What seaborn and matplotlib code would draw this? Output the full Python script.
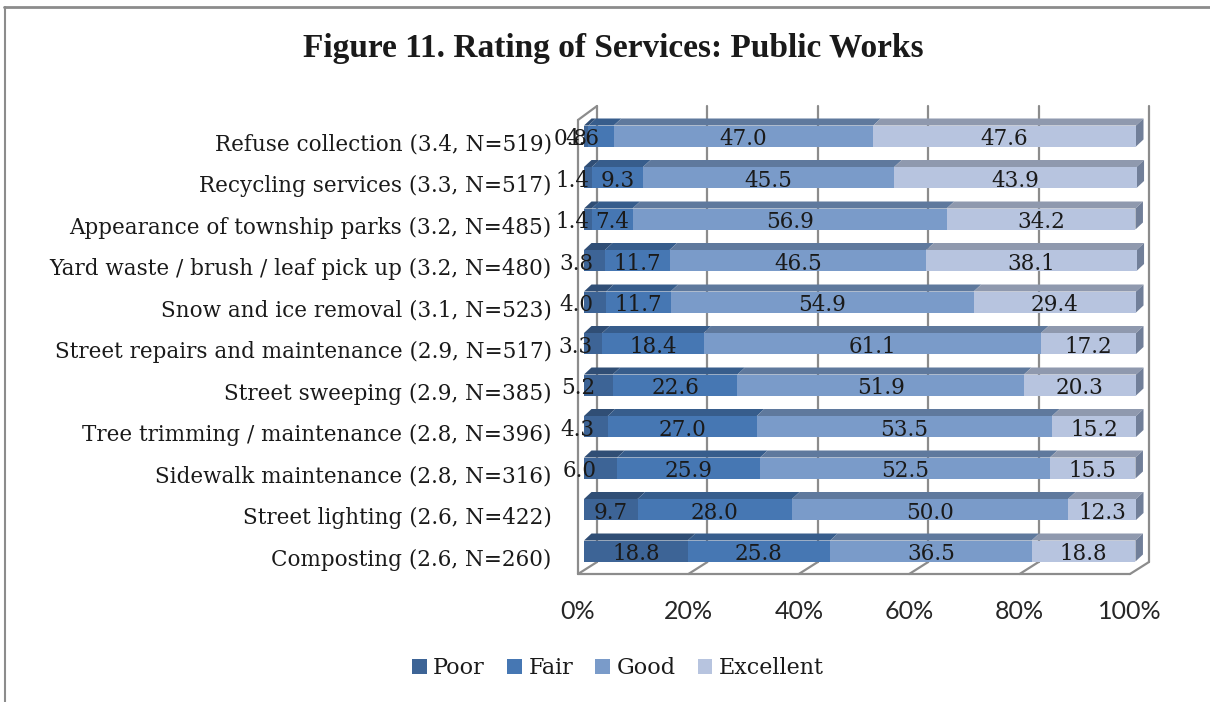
import numpy as np
import pandas as pd
import matplotlib
matplotlib.use("Agg")
import matplotlib.pyplot as plt
from matplotlib.patches import Polygon, Patch
from matplotlib.lines import Line2D
from matplotlib.colors import to_rgb
import seaborn as sns

# ---- data -------------------------------------------------------------
services = [
    "Refuse collection (3.4, N=519)",
    "Recycling services (3.3, N=517)",
    "Appearance of township parks (3.2, N=485)",
    "Yard waste / brush / leaf pick up (3.2, N=480)",
    "Snow and ice removal (3.1, N=523)",
    "Street repairs and maintenance (2.9, N=517)",
    "Street sweeping (2.9, N=385)",
    "Tree trimming / maintenance (2.8, N=396)",
    "Sidewalk maintenance (2.8, N=316)",
    "Street lighting (2.6, N=422)",
    "Composting (2.6, N=260)",
]
poor = [0.8, 1.4, 1.4, 3.8, 4.0, 3.3, 5.2, 4.3, 6.0, 9.7, 18.8]
fair = [4.6, 9.3, 7.4, 11.7, 11.7, 18.4, 22.6, 27.0, 25.9, 28.0, 25.8]
good = [47.0, 45.5, 56.9, 46.5, 54.9, 61.1, 51.9, 53.5, 52.5, 50.0, 36.5]
excellent = [47.6, 43.9, 34.2, 38.1, 29.4, 17.2, 20.3, 15.2, 15.5, 12.3, 18.8]
ratings = ["Poor", "Fair", "Good", "Excellent"]
tick_values = [0, 20, 40, 60, 80, 100]

colors = ["#3D6496", "#4677B3", "#7A9BC9", "#B7C4DF"]
side_color = "#717F99"
wall_color = "#8C8C8C"
text_color = "#1A1A1A"

# ---- theme ------------------------------------------------------------
sns.set_theme(style="white")
plt.rcParams["font.family"] = ["DejaVu Serif"]

W, H = 1210, 702
fig = plt.figure(figsize=(W / 100, H / 100), dpi=100)

# pixel geometry of the plot box (bar front plane: 0% at x=584, 5.52 px per %)
X0, PX_PCT = 584.0, 5.52
Y0, PX_ROW = 136.0, 41.5
ax_l, ax_r, ax_t, ax_b = 560, 1170, 95, 590
ax = fig.add_axes([ax_l / W, 1 - ax_b / H, (ax_r - ax_l) / W, (ax_b - ax_t) / H])


def dx(px):
    return px / PX_PCT


def dy(px):
    return px / PX_ROW


# ---- stacked bars (front faces) ----------------------------------------
df = pd.DataFrame({"service": services, "Poor": poor, "Fair": fair,
                   "Good": good, "Excellent": excellent})
cum = df[ratings].cumsum(axis=1).assign(service=services)
bar_h = dy(21)
for k in range(len(ratings) - 1, -1, -1):
    sns.barplot(data=cum, x=ratings[k], y="service", orient="h",
                color=colors[k], saturation=1, width=bar_h, order=services,
                ax=ax, zorder=3, linewidth=0)

ax.set_xlim((ax_l - X0) / PX_PCT, (ax_r - X0) / PX_PCT)
ax.set_ylim((ax_b - Y0) / PX_ROW, (ax_t - Y0) / PX_ROW)

# ---- walls and floor ----------------------------------------------------
wf_x, wf_top, wf_bot = dx(-6), dy(120 - Y0), dy(574 - Y0)   # front edge of walls
wb_x, wb_top, wb_bot = dx(13), dy(106 - Y0), dy(562 - Y0)   # back wall plane
lw = 1.6
ax.plot([wf_x, wf_x], [wf_top, wf_bot], color=wall_color, lw=lw, zorder=1)
ax.plot([wf_x, wb_x], [wf_top, wb_top], color=wall_color, lw=lw, zorder=1)
for v in tick_values:
    ax.plot([v + wb_x, v + wb_x], [wb_top, wb_bot], color=wall_color, lw=lw, zorder=1)
    ax.plot([v + wf_x, v + wb_x], [wf_bot, wb_bot], color=wall_color, lw=lw, zorder=1)
ax.plot([wf_x, 100 + wf_x], [wf_bot, wf_bot], color=wall_color, lw=lw, zorder=1)

# ---- 3-D top and end faces ----------------------------------------------
ddx, ddy = dx(7.5), dy(-7)


def darker(c, f):
    r, g, b = to_rgb(c)
    return (r * f, g * f, b * f)


for i in range(len(services)):
    yt = i - bar_h / 2
    yb = i + bar_h / 2
    left = 0.0
    for k, r in enumerate(ratings):
        v = df.loc[i, r]
        right = left + v
        ax.add_patch(Polygon([(left, yt), (right, yt), (right + ddx, yt + ddy),
                              (left + ddx, yt + ddy)], closed=True,
                             facecolor=darker(colors[k], 0.78), edgecolor="none", zorder=2))
        left = right
    ax.add_patch(Polygon([(left, yt), (left, yb), (left + ddx, yb + ddy),
                          (left + ddx, yt + ddy)], closed=True,
                         facecolor=side_color, edgecolor="none", zorder=2))

# ---- value labels --------------------------------------------------------
for i in range(len(services)):
    left = 0.0
    for r in ratings:
        v = df.loc[i, r]
        if v < 7:
            ax.text(left + 0.47 + 0.315 * v, i + 0.08, f"{v:.1f}", ha="right",
                    va="center", fontsize=15.5, color=text_color, zorder=5)
        else:
            ax.text(left + v / 2, i + 0.08, f"{v:.1f}", ha="center",
                    va="center", fontsize=15.5, color=text_color, zorder=5)
        left += v

# ---- axes, ticks ---------------------------------------------------------
ax.set_xticks([v + wf_x for v in tick_values])
ax.set_xticklabels([f"{v}%" for v in tick_values], family="Lato", fontsize=18,
                   color="#262626")
ax.set_yticks(np.arange(len(services)) + dy(6))
ax.set_yticklabels(services, fontsize=15.5, color=text_color)
ax.tick_params(axis="x", length=0, pad=7)
ax.tick_params(axis="y", length=0, pad=6)
ax.set_xlabel("")
ax.set_ylabel("")
for s in ax.spines.values():
    s.set_visible(False)
ax.patch.set_alpha(0)

# ---- title, legend, frame -----------------------------------------------
fig.text(613 / W, 1 - 48 / H, "Figure 11. Rating of Services: Public Works",
         ha="center", va="center", fontsize=24, fontweight="bold",
         family="Liberation Serif", color=text_color)

handles = [Patch(facecolor=c, edgecolor="none") for c in colors]
fig.legend(handles, ratings, loc="center", bbox_to_anchor=(618 / W, 1 - 668 / H),
           ncol=4, frameon=False, fontsize=16, handlelength=0.65, handleheight=0.65,
           handletextpad=0.3, columnspacing=1.0, labelcolor=text_color)

fig.add_artist(Line2D([4 / W, 1], [1 - 7 / H, 1 - 7 / H], color="#8C8C8C", lw=2,
                      transform=fig.transFigure))
fig.add_artist(Line2D([5 / W, 5 / W], [0, 1 - 7 / H], color="#8C8C8C", lw=1.5,
                      transform=fig.transFigure))

fig.savefig("out.png", dpi=100)
